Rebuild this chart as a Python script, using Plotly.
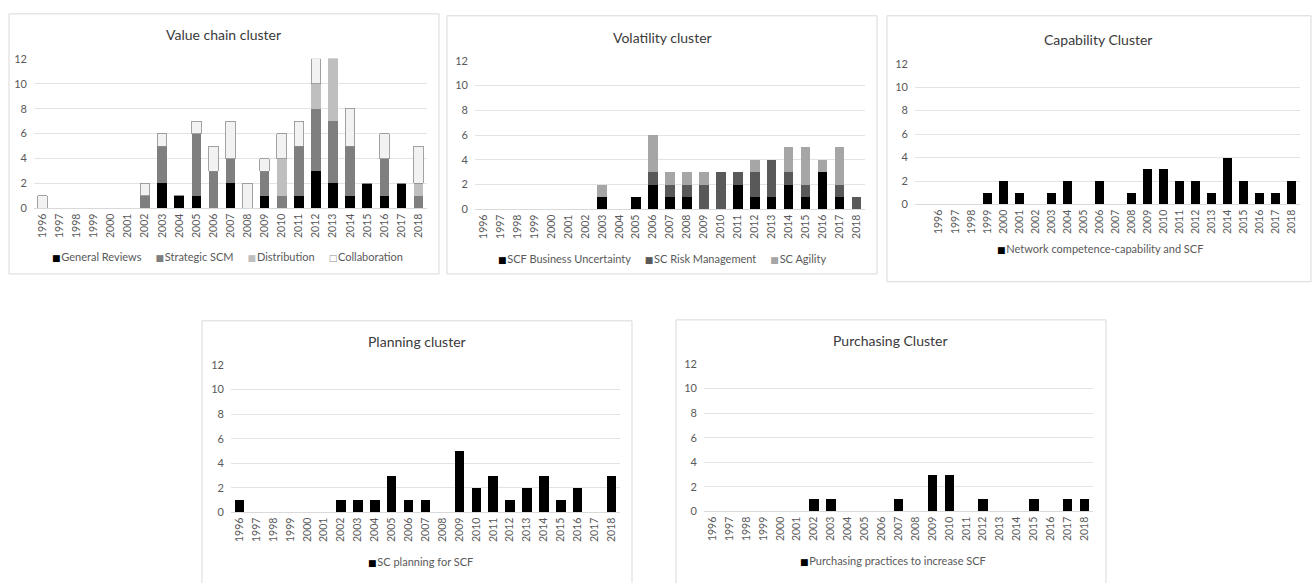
import plotly.graph_objects as go

years = [str(y) for y in range(1996, 2019)]

# Value chain cluster
vc_general = [0,0,0,0,0,0,0,2,1,1,0,2,0,1,0,1,3,2,1,2,1,2,0]
vc_strategic = [0,0,0,0,0,0,1,3,0,5,3,2,0,2,1,4,5,5,4,0,3,0,1]
vc_distribution = [0,0,0,0,0,0,0,0,0,0,0,0,0,0,3,0,2,5,0,0,0,0,1]
vc_collaboration = [1,0,0,0,0,0,1,1,0,1,2,3,2,1,2,2,2,0,3,0,2,0,3]

# Volatility cluster
vo_uncertainty = [0,0,0,0,0,0,0,1,0,1,2,1,1,0,0,2,1,1,2,1,3,1,0]
vo_risk = [0,0,0,0,0,0,0,0,0,0,1,1,1,2,3,1,2,3,1,1,0,1,1]
vo_agility = [0,0,0,0,0,0,0,1,0,0,3,1,1,1,0,0,1,0,2,3,1,3,0]

# Capability cluster
cap_network = [0,0,0,1,2,1,0,1,2,0,2,0,1,3,3,2,2,1,4,2,1,1,2]

# Planning cluster
plan_sc = [1,0,0,0,0,0,1,1,1,3,1,1,0,5,2,3,1,2,3,1,2,0,3]

# Purchasing cluster
pur_practices = [0,0,0,0,0,0,1,1,0,0,0,1,0,3,3,0,1,0,0,1,0,1,1]

W, H = 1314, 583
FONT = "Lato, 'Liberation Sans', sans-serif"
TXT = "#595959"

def px(x):
    return x / W

def py(y):
    return 1 - y / H

panels = [
    dict(title="Value chain cluster", plot=(34, 53, 427, 206), box=(9, 7, 439, 273),
         tpos=(223, 28), lpos=(227, 255), xr=[-0.5, 22.5]),
    dict(title="Volatility cluster", plot=(475, 55, 865, 207), box=(447, 9, 877, 273),
         tpos=(662, 31), lpos=(662, 257), xr=[-0.5, 22.5]),
    dict(title="Capability Cluster", plot=(915, 58, 1300, 202), box=(887, 9, 1311, 281),
         tpos=(1098, 33), lpos=(1100, 247), xr=[-1.5, 22.5]),
    dict(title="Planning cluster", plot=(231, 366, 620, 517), box=(202, 321, 632, 600),
         tpos=(417, 342), lpos=(420, 567), xr=[-0.5, 22.5]),
    dict(title="Purchasing Cluster", plot=(704, 365, 1093, 516), box=(676, 320, 1106, 600),
         tpos=(890, 341), lpos=(893, 566), xr=[-0.5, 22.5]),
]

series = [
    [("General Reviews", vc_general, "#000000", None),
     ("Strategic SCM", vc_strategic, "#7f7f7f", None),
     ("Distribution", vc_distribution, "#bfbfbf", None),
     ("Collaboration", vc_collaboration, "#f2f2f2", "#8c8c8c")],
    [("SCF Business Uncertainty", vo_uncertainty, "#000000", None),
     ("SC Risk Management", vo_risk, "#595959", None),
     ("SC Agility", vo_agility, "#a6a6a6", None)],
    [("Network competence-capability and SCF", cap_network, "#000000", None)],
    [("SC planning for SCF", plan_sc, "#000000", None)],
    [("Purchasing practices to increase SCF", pur_practices, "#000000", None)],
]

fig = go.Figure()
layout = dict(
    width=W, height=H, margin=dict(l=0, r=0, t=0, b=0),
    paper_bgcolor="white", plot_bgcolor="white",
    barmode="stack", bargap=0.44, showlegend=False,
    font=dict(family=FONT, color=TXT, size=11),
    shapes=[], annotations=[],
)

for i, (p, ser) in enumerate(zip(panels, series)):
    n = "" if i == 0 else str(i + 1)
    xa, ya = "x" + n, "y" + n
    keys = []
    for name, vals, col, line in ser:
        fig.add_trace(go.Bar(
            x=years, y=vals, name=name, xaxis=xa, yaxis=ya,
            marker=dict(color=col, line=dict(color=line or col, width=0.8 if line else 0)),
        ))
        glyph, gcol = ("\u25a1", line) if line else ("\u25a0", col)
        keys.append(f'<span style="color:{gcol};font-family:DejaVu Sans;font-size:9px">{glyph}</span>'
                    f'<span style="font-size:3px"> </span>{name}')
    l, t, r, b = p["plot"]
    layout["xaxis" + n] = dict(
        domain=[px(l), px(r)], anchor=ya, type="category", range=p["xr"],
        tickangle=-90, tickfont=dict(size=10.5, color=TXT), showgrid=False,
        showline=True, linecolor="#d9d9d9", linewidth=1, ticks="", fixedrange=True,
    )
    layout["yaxis" + n] = dict(
        domain=[py(b), py(t)], anchor=xa, range=[0, 12], dtick=2,
        showgrid=True, gridcolor="#e3e3e3", zeroline=False, showline=False,
        tickfont=dict(size=11, color=TXT), ticklabelstandoff=6, fixedrange=True,
    )
    bl, bt, br, bb = p["box"]
    layout["shapes"].append(dict(
        type="rect", xref="paper", yref="paper",
        x0=px(bl), x1=px(br), y0=py(bb), y1=py(bt),
        line=dict(color="#d9d9d9", width=1), fillcolor="rgba(0,0,0,0)", layer="below",
    ))
    layout["annotations"].append(dict(
        text=p["title"], xref="paper", yref="paper",
        x=px(p["tpos"][0]), y=py(p["tpos"][1]), xanchor="center", yanchor="middle",
        showarrow=False, font=dict(size=14, color="#3a3a3a"),
    ))
    # legend row (keys built from the series names and colours)
    layout["annotations"].append(dict(
        text="&nbsp;&nbsp;&nbsp;&nbsp;&nbsp;".join(keys), xref="paper", yref="paper",
        x=px(p["lpos"][0]), y=py(p["lpos"][1]), xanchor="center", yanchor="middle",
        showarrow=False, font=dict(size=11, color=TXT),
    ))

fig.update_layout(**layout)
fig.write_html(
    "out.html",
    config={"displayModeBar": False},
    post_script="document.body.style.margin='0';document.body.style.overflow='hidden';",
)
